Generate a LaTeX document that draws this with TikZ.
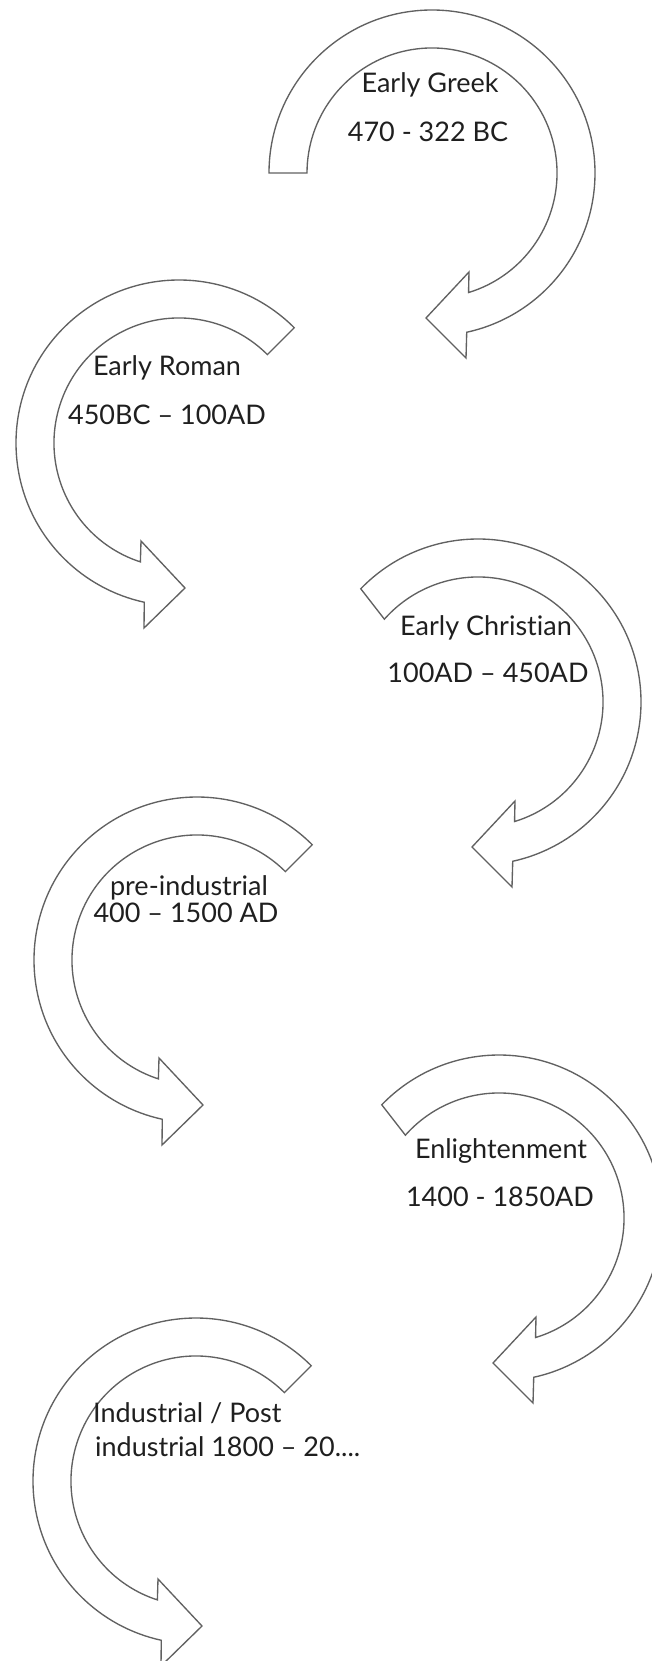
\documentclass[tikz,border=0pt]{standalone}
\usepackage{fontspec}
\setmainfont{Lato}[Ligatures=NoCommon]
\tikzset{
  swoop/.style={draw=black!62, line width=1.35pt, fill=white},
  era/.style={font=\fontsize{27}{32}\selectfont, text=black!88, inner sep=0pt, anchor=base}
}
\begin{document}
\begin{tikzpicture}[x=1pt, y=-1pt]
            \path[use as bounding box] (0,0) rectangle (652,1661);
            \clip (0,0) rectangle (652,1661);
            % arrows turning clockwise (centers: A1, A3, A5)
            \foreach \cx/\cy/\tout/\tin in {432/173/180/180, 478/702/224/221.5, 499/1218/224/221.5} {
                \begin{scope}[shift={(\cx,\cy)}]
                    \draw[swoop] (\tout:163) arc[start angle=\tout, end angle=437.7, radius=163]
                        -- (34,185) -- (-6,145) -- (37,99) -- (433:125)
                        arc[start angle=433, end angle=\tin, radius=125] -- cycle;
                \end{scope}
            }
            % arrows turning anticlockwise (centers: A2, A4, A6)
            \foreach \cx/\cy in {179/443, 197/960, 196/1481} {
                \begin{scope}[shift={(\cx,\cy)}]
                    \draw[swoop] (-45:163) arc[start angle=-45, end angle=-257.7, radius=163]
                        -- (-35,185) -- (6,145) -- (-38,98) -- (-252:125)
                        arc[start angle=-252, end angle=-45, radius=125] -- cycle;
                \end{scope}
            }
            % era names and dates
            \node[era] (greek) at (430,93) {Early Greek};
            \node[era] (greekdate) at (428,142) {470 - 322 BC};
            \node[era] (roman) at (167,375) {Early Roman};
            \node[era] (romandate) at (167,424) {450BC -- 100AD};
            \node[era] (christian) at (486,635) {Early Christian};
            \node[era] (christiandate) at (488,682) {100AD -- 450AD};
            \node[era] (preind) at (189,895) {pre-industrial};
            \node[era] (preinddate) at (186,922) {400 -- 1500 AD};
            \node[era] (enlight) at (501,1158) {Enlightenment};
            \node[era] (enlightdate) at (500,1206) {1400 - 1850AD};
            \node[era, anchor=base west] (indust) at (93,1422) {Industrial / Post};
            \node[era, anchor=base west] (industdate) at (95,1456) {industrial 1800 -- 20....};
        \end{tikzpicture}
\end{document}
